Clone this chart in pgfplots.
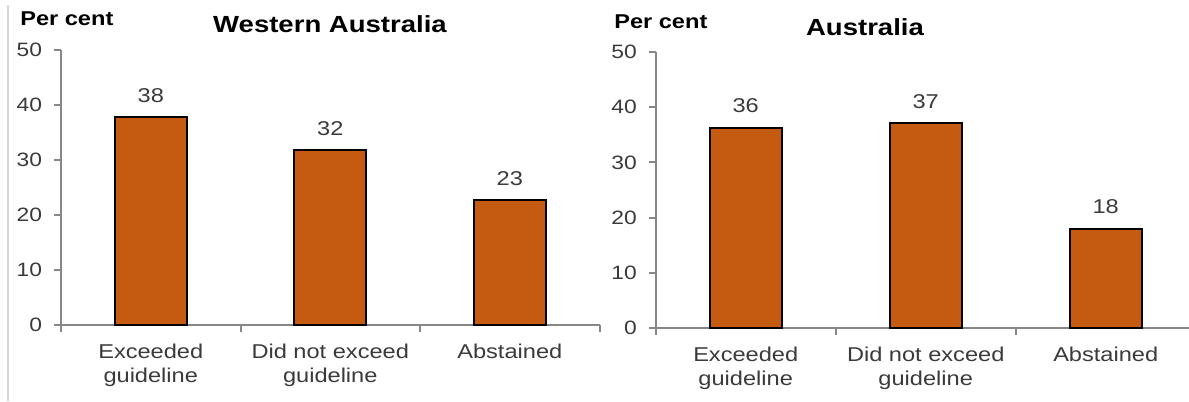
\documentclass[border=0pt]{standalone}
\usepackage{pgfplots}
\pgfplotsset{compat=1.18}
\usepackage{fontspec}
\setmainfont{Liberation Sans}[FakeStretch=1.18]
\definecolor{barc}{HTML}{C55A11}
\definecolor{axc}{HTML}{878787}
\definecolor{txt}{HTML}{3A3A3A}
\pgfplotsset{
  /pgf/number format/assume math mode=true,
  panel/.style={
    scale only axis, anchor=south west,
    ymin=0, ymax=50, ytick={0,10,...,50},
    xmin=-0.5, xmax=2.5,
    axis x line*=bottom, axis y line*=left,
    axis line style={draw=axc, line width=1.5pt, -},
    every tick/.style={draw=axc, line width=1.5pt},
    tick align=outside,
    major tick length=5pt, minor tick length=5pt,
    xtick={0,1,2},
    major x tick style={draw=none},
    minor xtick={-0.5,0.5,1.5,2.5},
    xticklabels={Exceeded\\guideline, Did not exceed\\guideline, Abstained},
    xticklabel style={align=center, anchor=north, inner sep=0pt, yshift=-9pt,
      font=\fontsize{15}{18}\selectfont, text=txt},
    yticklabel style={anchor=east, inner sep=0pt, xshift=-9pt,
      font=\fontsize{14.5}{16}\selectfont, text=txt},
    ybar, bar width=0.4,
    nodes near coords={\pgfmathprintnumber[fixed,precision=0]{\pgfplotspointmeta}},
    every node near coord/.append style={anchor=base, yshift=11pt, inner sep=0pt,
      font=\fontsize{15}{17}\selectfont, text=txt},
    clip=false,
  },
  barstyle/.style={fill=barc, draw=black, line width=1.5pt},
}
\begin{document}
\begin{tikzpicture}
\useasboundingbox (0pt,0pt) rectangle (891.75pt,-300.75pt);
\draw[draw=black!15, line width=0.8pt] (6pt,-4pt) -- (6pt,-300.75pt);
\begin{axis}[panel, at={(45.75pt,-243.75pt)}, width=403.9pt, height=206.25pt]
\addplot[barstyle] coordinates {(0,37.8) (1,31.8) (2,22.7)};
\end{axis}
\begin{axis}[panel, at={(491.8pt,-246pt)}, width=405pt, height=207pt]
\addplot[barstyle] coordinates {(0,36.3) (1,37.2) (2,18.0)};
\end{axis}
\node[anchor=base, inner sep=0pt, font=\fontsize{17.5}{20}\selectfont\bfseries] at (247.5pt,-24pt) {Western Australia};
\node[anchor=base, inner sep=0pt, font=\fontsize{17.5}{20}\selectfont\bfseries] at (648.75pt,-26.25pt) {Australia};
\node[anchor=base west, inner sep=0pt, font=\fontsize{15}{18}\selectfont\bfseries] at (15pt,-19.3pt) {Per cent};
\node[anchor=base west, inner sep=0pt, font=\fontsize{15}{18}\selectfont\bfseries] at (460.5pt,-21pt) {Per cent};
\end{tikzpicture}
\end{document}
